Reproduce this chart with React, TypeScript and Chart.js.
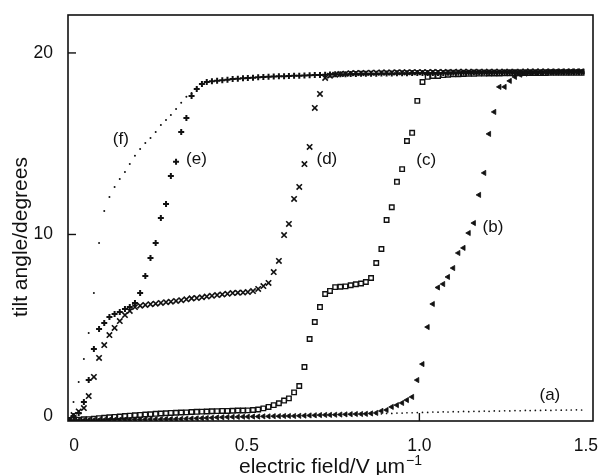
import React, { useEffect, useRef } from 'react';
import { Chart, registerables } from 'chart.js';

Chart.register(...registerables);

// electric field values (V/µm) at which the tilt angle was sampled
const FIELD = [
  -0.017, -0.002, 0.013, 0.028, 0.042, 0.057, 0.072, 0.087, 0.102, 0.117,
  0.132, 0.147, 0.161, 0.176, 0.191, 0.206, 0.221, 0.236, 0.251, 0.266,
  0.28, 0.295, 0.31, 0.325, 0.34, 0.355, 0.37, 0.384, 0.399, 0.414,
  0.429, 0.444, 0.459, 0.474, 0.489, 0.503, 0.518, 0.533, 0.548, 0.563,
  0.578, 0.593, 0.608, 0.622, 0.637, 0.652, 0.667, 0.682, 0.697, 0.712,
  0.727, 0.741, 0.756, 0.771, 0.786, 0.801, 0.816, 0.831, 0.845, 0.86,
  0.875, 0.89, 0.905, 0.92, 0.935, 0.95, 0.964, 0.979, 0.994, 1.009,
  1.024, 1.039, 1.054, 1.069, 1.083, 1.098, 1.113, 1.128, 1.143, 1.158,
  1.173, 1.188, 1.202, 1.217, 1.232, 1.247, 1.262, 1.277, 1.292, 1.307,
  1.321, 1.336, 1.351, 1.366, 1.381, 1.396, 1.411, 1.426, 1.44, 1.455,
  1.47,
];

// tilt angle (degrees) for each curve, aligned with FIELD
const TILT_A = [
  -0.2, -0.21, -0.19, -0.2, -0.18, -0.19, -0.17, -0.18, -0.16, -0.17,
  -0.15, -0.16, -0.14, -0.13, -0.14, -0.12, -0.13, -0.11, -0.12, -0.1,
  -0.11, -0.09, -0.1, -0.08, -0.09, -0.07, -0.08, -0.06, -0.07, -0.05,
  -0.06, -0.04, -0.05, -0.03, -0.04, -0.02, -0.03, -0.01, -0.02, 0.0,
  -0.01, 0.01, 0.0, 0.02, 0.01, 0.03, 0.02, 0.04, 0.03, 0.05,
  0.04, 0.06, 0.05, 0.07, 0.06, 0.08, 0.07, 0.09, 0.09, 0.11,
  0.11, 0.12, 0.14, 0.14, 0.16, 0.16, 0.18, 0.18, 0.19, 0.2,
  0.2, 0.22, 0.21, 0.23, 0.22, 0.24, 0.23, 0.25, 0.24, 0.26,
  0.25, 0.27, 0.26, 0.28, 0.27, 0.29, 0.28, 0.3, 0.29, 0.31,
  0.3, 0.31, 0.31, 0.32, 0.31, 0.33, 0.32, 0.33, 0.33, 0.34,
  0.33,
];

const TILT_B = [
  -0.25, -0.25, -0.24, -0.24, -0.23, -0.23, -0.22, -0.22, -0.21, -0.21,
  -0.2, -0.2, -0.2, -0.19, -0.19, -0.19, -0.18, -0.18, -0.18, -0.17,
  -0.17, -0.17, -0.16, -0.15, -0.14, -0.13, -0.12, -0.11, -0.1, -0.08,
  -0.07, -0.06, -0.05, -0.05, -0.04, -0.04, -0.03, -0.03, -0.02, -0.02,
  -0.01, -0.01, 0.0, 0.0, 0.0, 0.01, 0.02, 0.03, 0.04, 0.05,
  0.06, 0.06, 0.07, 0.08, 0.09, 0.1, 0.11, 0.11, 0.12, 0.14,
  0.17, 0.28, 0.33, 0.5, 0.6, 0.72, 0.88, 1.05, 1.98, 2.86,
  4.9, 6.17, 7.08, 7.27, 7.66, 8.15, 8.98, 9.26, 10.08, 10.63,
  12.18, 13.39, 15.54, 16.75, 18.13, 18.13, 18.46, 18.68, 18.8, 18.86,
  18.9, 18.92, 18.94, 18.95, 18.96, 18.96, 18.97, 18.97, 18.98, 18.98,
  18.98,
];

const TILT_C = [
  -0.22, -0.2, -0.2, -0.18, -0.17, -0.15, -0.12, -0.1, -0.07, -0.05,
  -0.03, 0.0, 0.02, 0.04, 0.06, 0.08, 0.1, 0.12, 0.14, 0.15,
  0.17, 0.18, 0.19, 0.2, 0.22, 0.23, 0.24, 0.25, 0.26, 0.27,
  0.28, 0.28, 0.29, 0.3, 0.3, 0.31, 0.33, 0.36, 0.42, 0.5,
  0.6, 0.7, 0.85, 0.97, 1.3, 1.65, 2.7, 4.24, 5.18, 6.0,
  6.72, 6.89, 7.1, 7.12, 7.14, 7.2, 7.26, 7.3, 7.38, 7.6,
  8.43, 9.2, 10.8, 11.5, 12.9, 13.6, 15.15, 15.6, 17.36, 18.4,
  18.68, 18.73, 18.73, 18.78, 18.8, 18.82, 18.83, 18.84, 18.85, 18.85,
  18.86, 18.86, 18.87, 18.87, 18.87, 18.88, 18.88, 18.88, 18.88, 18.89,
  18.89, 18.89, 18.89, 18.89, 18.9, 18.9, 18.9, 18.9, 18.9, 18.9,
  18.9,
];

const TILT_D = [
  -0.2, 0.05, 0.25, 0.44, 1.1, 2.15, 3.2, 3.91, 4.46, 4.85,
  5.23, 5.56, 5.79, 6.0, 6.08, 6.12, 6.16, 6.19, 6.23, 6.27,
  6.3, 6.34, 6.38, 6.43, 6.48, 6.5, 6.54, 6.58, 6.62, 6.66,
  6.7, 6.73, 6.77, 6.79, 6.8, 6.83, 6.88, 7.0, 7.16, 7.33,
  7.93, 8.54, 9.97, 10.58, 11.96, 12.62, 13.88, 14.82, 16.97, 17.74,
  18.62, 18.75, 18.8, 18.84, 18.86, 18.88, 18.89, 18.9, 18.9, 18.91,
  18.91, 18.92, 18.92, 18.92, 18.93, 18.93, 18.93, 18.94, 18.94, 18.94,
  18.94, 18.95, 18.95, 18.95, 18.95, 18.95, 18.96, 18.96, 18.96, 18.96,
  18.96, 18.96, 18.97, 18.97, 18.97, 18.97, 18.97, 18.97, 18.97, 18.98,
  18.98, 18.98, 18.98, 18.98, 18.98, 18.98, 18.98, 18.98, 18.98, 18.98,
  18.98,
];

const TILT_E = [
  -0.22, 0.0, 0.17, 0.77, 1.98, 3.69, 4.79, 5.12, 5.45, 5.62,
  5.73, 5.9, 6.0, 6.23, 6.78, 7.71, 8.71, 9.53, 10.91, 11.68,
  13.22, 14.0, 15.65, 16.42, 17.63, 18.02, 18.29, 18.4, 18.44, 18.47,
  18.5, 18.53, 18.56, 18.58, 18.6, 18.62, 18.64, 18.66, 18.67, 18.69,
  18.7, 18.71, 18.72, 18.73, 18.74, 18.75, 18.76, 18.77, 18.78, 18.79,
  18.8, 18.81, 18.82, 18.82, 18.83, 18.84, 18.84, 18.85, 18.85, 18.86,
  18.86, 18.87, 18.87, 18.87, 18.88, 18.88, 18.88, 18.89, 18.89, 18.89,
  18.9, 18.9, 18.9, 18.9, 18.91, 18.91, 18.91, 18.91, 18.91, 18.92,
  18.92, 18.92, 18.92, 18.92, 18.92, 18.93, 18.93, 18.93, 18.93, 18.93,
  18.93, 18.93, 18.94, 18.94, 18.94, 18.94, 18.94, 18.94, 18.94, 18.94,
  18.94,
];

const TILT_F = [
  -0.15, 0.77, 1.87, 3.14, 4.57, 6.78, 9.53, 11.29, 12.07, 12.62,
  13.06, 13.44, 13.88, 14.33, 14.71, 15.04, 15.32, 15.65, 16.03, 16.31,
  16.58, 16.91, 17.25, 17.58, 17.8, 18.05,
];

// axes
const X_MIN = -0.018;
const X_MAX = 1.503;
const Y_MIN = -0.275;
const Y_MAX = 22.09;
const X_TICKS = [0, 0.5, 1.0, 1.5];
const X_TICK_LABELS = ['0', '0.5', '1.0', '1.5'];
const Y_TICKS = [0, 10, 20];
const Y_TICK_MARKS = [10, 20];
const X_TICK_MARKS = [1.0];
const X_TITLE = 'electric field/V µm';
const X_TITLE_SUP = '−1';
const Y_TITLE = 'tilt angle/degrees';

// curve labels
const CURVE_LABELS = ['(a)', '(b)', '(c)', '(d)', '(e)', '(f)'];
const CURVE_LABEL_X = [1.378, 1.213, 1.02, 0.732, 0.354, 0.135];
const CURVE_LABEL_Y = [1.16, 10.41, 14.1, 14.16, 14.16, 15.26];

const FONT = '"Liberation Sans", Arial, Helvetica, sans-serif';
const INK = '#111111';

function points(ys: (number | null)[]) {
  return FIELD.map((x, i) => ({ x, y: ys[i] }))
    .filter((p) => p.y !== undefined && p.y !== null);
}

const decor = {
  id: 'decor',
  afterDraw(chart: any) {
    const { ctx, chartArea: a, scales } = chart;
    const xs = scales.x;
    const ys = scales.y;
    ctx.save();
    ctx.strokeStyle = INK;
    ctx.lineWidth = 1.6;
    ctx.strokeRect(a.left, a.top, a.right - a.left, a.bottom - a.top);
    ctx.lineWidth = 1.4;
    for (const v of Y_TICK_MARKS) {
      const py = ys.getPixelForValue(v);
      ctx.beginPath();
      ctx.moveTo(a.left, py);
      ctx.lineTo(a.left + 8, py);
      ctx.stroke();
    }
    for (const v of X_TICK_MARKS) {
      const px = xs.getPixelForValue(v);
      ctx.beginPath();
      ctx.moveTo(px, a.bottom);
      ctx.lineTo(px, a.bottom - 8);
      ctx.stroke();
    }
    ctx.fillStyle = INK;
    // x tick labels
    ctx.font = `17.5px ${FONT}`;
    ctx.textAlign = 'center';
    ctx.textBaseline = 'middle';
    X_TICKS.forEach((v, i) => {
      const t = X_TICK_LABELS[i];
      const w = ctx.measureText(t).width;
      const px = Math.min(xs.getPixelForValue(v), chart.width - w / 2 - 1);
      ctx.fillText(t, px, a.bottom + 25);
    });
    // curve labels
    ctx.font = `17px ${FONT}`;
    CURVE_LABELS.forEach((t, i) => {
      ctx.fillText(t, xs.getPixelForValue(CURVE_LABEL_X[i]), ys.getPixelForValue(CURVE_LABEL_Y[i]));
    });
    // x title with superscript
    ctx.textAlign = 'left';
    ctx.textBaseline = 'alphabetic';
    ctx.font = `21px ${FONT}`;
    const mainW = ctx.measureText(X_TITLE).width;
    ctx.font = `14px ${FONT}`;
    const supW = ctx.measureText(X_TITLE_SUP).width;
    const cx = (a.left + a.right) / 2;
    const startX = cx - (mainW + supW + 1) / 2;
    const base = a.bottom + 52;
    ctx.font = `21px ${FONT}`;
    ctx.fillText(X_TITLE, startX, base);
    ctx.font = `14px ${FONT}`;
    ctx.fillText(X_TITLE_SUP, startX + mainW + 1, base - 8);
    // y title
    ctx.font = `21px ${FONT}`;
    ctx.textAlign = 'center';
    ctx.translate(27, (a.top + a.bottom) / 2 + 19);
    ctx.rotate(-Math.PI / 2);
    ctx.fillText(Y_TITLE, 0, 0);
    ctx.restore();
  },
};

export default function App() {
  const ref = useRef<HTMLCanvasElement>(null);
  useEffect(() => {
    const canvas = ref.current;
    if (!canvas) return;
    const chart = new Chart(canvas, {
      type: 'scatter',
      data: {
        datasets: [
          {
            label: '(f)',
            data: points(TILT_F),
            pointStyle: 'circle',
            pointRadius: 1,
            backgroundColor: INK,
            borderWidth: 0,
          },
          {
            label: '(e)',
            data: points(TILT_E),
            pointStyle: 'cross',
            pointRadius: 3,
            borderColor: INK,
            borderWidth: 2,
          },
          {
            label: '(d)',
            data: points(TILT_D),
            pointStyle: 'crossRot',
            pointRadius: 3.8,
            borderColor: INK,
            borderWidth: 1.6,
          },
          {
            label: '(c)',
            data: points(TILT_C),
            pointStyle: 'rect',
            pointRadius: 3.2,
            borderColor: INK,
            backgroundColor: 'rgba(0,0,0,0)',
            borderWidth: 1.4,
          },
          {
            label: '(b)',
            data: points(TILT_B),
            pointStyle: 'triangle',
            pointRotation: -90,
            pointRadius: 3,
            borderColor: INK,
            backgroundColor: INK,
            borderWidth: 0.8,
          },
          {
            label: '(a)',
            data: points(TILT_A),
            pointStyle: 'circle',
            pointRadius: 0.85,
            backgroundColor: INK,
            borderWidth: 0,
          },
        ] as any,
      },
      options: {
        responsive: false,
        animation: false,
        devicePixelRatio: 1,
        layout: { padding: { left: 0, right: 3.5, top: 15, bottom: 0 } },
        plugins: { legend: { display: false }, tooltip: { enabled: false } },
        scales: {
          x: {
            type: 'linear',
            min: X_MIN,
            max: X_MAX,
            afterBuildTicks: (s: any) => {
              s.ticks = X_TICKS.map((v) => ({ value: v }));
            },
            afterFit: (s: any) => {
              s.height = 54;
              s.paddingLeft = 0;
              s.paddingRight = 0;
            },
            ticks: { display: false },
            grid: { display: false, drawTicks: false },
            border: { display: false },
          },
          y: {
            type: 'linear',
            min: Y_MIN,
            max: Y_MAX,
            afterBuildTicks: (s: any) => {
              s.ticks = Y_TICKS.map((v) => ({ value: v }));
            },
            afterFit: (s: any) => {
              s.width = 68;
              s.paddingTop = 0;
              s.paddingBottom = 0;
            },
            ticks: {
              padding: 15,
              color: INK,
              font: { family: FONT, size: 17.5 },
              callback: (v: any) => String(v),
            },
            grid: { display: false, drawTicks: false },
            border: { display: false },
          },
        },
      } as any,
      plugins: [decor],
    });
    return () => chart.destroy();
  }, []);
  return (
    <div style={{ position: 'fixed', left: 0, top: 0, width: 599, height: 475, background: '#fff' }}>
      <canvas ref={ref} width={599} height={475} style={{ display: 'block', width: 599, height: 475 }} />
    </div>
  );
}
